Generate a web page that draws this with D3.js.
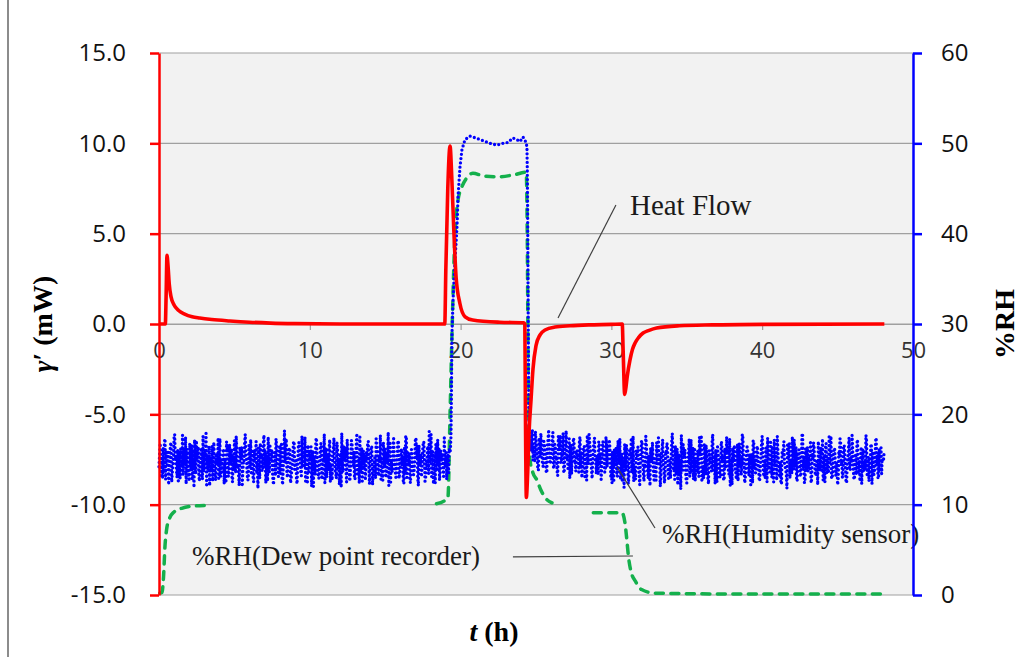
<!DOCTYPE html>
<html>
<head>
<meta charset="utf-8">
<script src="https://cdn.jsdelivr.net/npm/d3@7"></script>
<style>
  body { margin: 0; background: #fff; }
  .tick-y text { font-family: "Open Sans", sans-serif; font-size: 24px; fill: #111; }
  .tick-x text { font-family: "Open Sans", sans-serif; font-size: 22px; fill: #333; }
  .note { font-family: "Liberation Serif", "Times New Roman", serif; font-size: 27px; fill: #1a1a1a; }
  .title { font-family: "Liberation Serif", "Times New Roman", serif; font-weight: bold; fill: #000; }
</style>
</head>
<body>
<div id="chart"></div>
<script>
// heat flow (mW) : [t (h), value]
const heatFlow = [
  [0, 0], [0.42, 0], [0.47, 1.5], [0.53, 3.8], [0.6, 3.2], [0.68, 2.2], [0.8, 1.5], [1.0, 1.05],
  [1.3, 0.75], [1.7, 0.55], [2.2, 0.4], [2.7, 0.33], [3.5, 0.25], [4.7, 0.17], [6, 0.1], [7.4, 0.05],
  [9, 0.02], [12, 0], [18.95, 0], [19.02, 3], [19.15, 7.5], [19.3, 9.85], [19.42, 8], [19.55, 5.2],
  [19.7, 2.6], [19.95, 1.15], [20.3, 0.4], [20.8, 0.22], [22.6, 0.1], [24.2, 0.07], [24.26, 0],
  [24.3, -5], [24.36, -9.6], [24.45, -8.2], [24.54, -6], [24.67, -4.2], [24.8, -2.5], [25.0, -1.2],
  [25.27, -0.6], [25.6, -0.33], [26.26, -0.17], [27.25, -0.1], [28.5, -0.05], [30.0, -0.02], [30.72, 0],
  [30.78, -1.5], [30.88, -3.9], [30.95, -3.6], [31.05, -2.9], [31.23, -2.0], [31.4, -1.4], [31.57, -1.05],
  [31.8, -0.75], [32.1, -0.5], [32.5, -0.35], [33.0, -0.22], [34.5, -0.1], [36.7, -0.05], [40, -0.02], [48.1, 0]
];

// humidity sensor %RH before the wet step: readings every 0.08 h from t = 0,
// plus the readings taken in between (t = 0.04, 0.12, ...)
const humidityStep = 0.08;
const humidityA = [
  14.2,16.8,15.1,12.9,13.8,17.3,16.0,14.4,12.2,15.6,16.9,13.5,14.8,17.8,15.3,13.0,12.4,15.9,16.4,14.1,
  13.3,15.0,17.5,16.2,13.9,12.6,14.7,16.6,15.2,11.9,14.0,17.1,15.7,13.4,14.9,16.3,12.8,13.6,16.0,17.9,
  15.4,14.3,12.1,13.7,16.5,15.8,14.6,12.7,15.5,17.4,16.1,13.1,14.5,15.2,12.3,14.9,17.0,16.7,13.8,14.4,
  16.2,12.5,13.9,15.7,17.6,14.1,13.2,16.4,15.0,12.0,14.7,16.9,15.4,13.6,12.8,15.9,17.2,14.3,13.0,16.1,
  15.3,13.4,11.8,14.6,16.8,15.5,14.0,17.7,16.0,13.3,12.6,15.1,16.5,14.8,13.7,12.2,15.8,17.3,14.5,13.1,
  16.6,15.2,12.9,14.2,18.2,15.6,13.5,14.9,16.3,12.4,13.8,15.7,17.0,14.4,12.7,15.0,16.9,15.3,13.2,14.1,
  16.0,17.5,14.7,12.3,13.6,15.9,16.4,13.9,12.0,14.8,17.1,15.4,13.3,14.6,16.7,12.8,15.1,17.8,14.2,13.0,
  15.5,16.2,12.5,14.0,15.8,17.4,13.7,12.9,16.1,15.0,13.4,11.9,14.5,16.6,15.3,13.8,17.2,14.9,12.6,15.7,
  16.8,14.3,13.1,15.2,17.9,14.6,12.4,13.5,16.3,15.6,14.1,12.7,15.9,17.0,13.9,14.7,16.5,12.2,13.6,15.4,
  17.3,16.0,13.2,14.8,12.8,15.1,16.9,14.4,13.0,15.7,18.0,14.2,12.5,13.8,16.4,15.5,13.4,14.9,17.1,12.9,
  14.0,16.2,15.3,12.3,13.7,17.6,15.8,14.5,12.6,16.1,14.7,13.3,15.0,17.4,16.6,12.1,14.3,15.6,13.9,16.8,
  15.2,12.7,14.1,16.5,18.1,14.6,13.1,15.9,14.4,12.4,15.4,17.2,16.3,13.6,14.8,15.7,12.9,14.2,16.0,15.1,
  13.5,15.8
];
const humidityAmid = [
  15.6,13.2,14.9,16.3,17.0,12.8,14.5,15.8,13.9,16.6,12.5,14.2,17.4,15.0,13.7,16.1,14.6,12.9,15.3,17.7,
  16.0,14.4,12.3,15.5,13.6,16.8,14.1,12.7,15.9,17.2,13.4,14.8,16.4,12.6,15.1,13.8,17.6,14.3,15.6,12.2,
  13.9,16.5,15.2,14.0,12.6,16.9,13.3,15.7,14.4,12.9,17.3,15.0,13.6,16.2,14.7,12.4,15.8,13.1,16.7,14.9,
  12.8,15.4,17.1,13.5,16.0,14.2,12.1,15.6,16.4,13.8,14.6,17.8,15.1,12.7,16.6,14.0,13.3,15.9,12.5,14.8,
  17.0,14.5,16.3,12.9,15.2,13.7,16.8,14.1,12.4,15.5,17.5,13.6,14.9,16.1,12.6,15.7,13.2,16.5,14.3,15.0,
  13.4,16.7,12.2,15.3,14.6,17.3,13.0,15.8,16.2,12.8,14.4,17.0,13.9,15.1,12.3,16.4,14.8,13.5,17.6,15.4,
  14.1,12.6,15.9,16.6,13.7,14.9,12.0,16.0,15.2,13.3,17.4,14.5,12.9,15.6,16.8,13.1,14.7,12.4,16.3,15.5,
  13.8,17.2,14.3,12.7,16.1,15.0,13.5,16.9,14.0,12.2,15.7,17.9,13.6,14.8,16.4,12.5,15.3,14.6,13.0,17.1,
  14.4,15.9,12.8,16.6,13.4,15.1,17.5,14.2,12.6,16.0,15.4,13.7,14.9,17.0,12.3,15.6,16.3,13.2,14.7,12.9,
  16.5,13.9,15.2,17.7,14.1,12.7,15.8,16.2,13.3,14.6,12.1,16.8,15.0,13.6,17.3,14.4,12.8,15.5,16.9,13.5,
  15.1,14.3,12.5,16.4,17.6,13.0,14.8,15.7,12.4,16.1,14.0,13.8,17.2,15.3,12.9,16.6,14.5,13.1,15.9,17.0,
  12.6,14.9,16.3,13.4,15.0,17.8,14.2,12.3,15.6,16.7,13.7,14.4,12.7,16.0,15.2,13.9,17.4,14.6,12.8,15.5,
  16.2
];
// humidity step: rise, plateau, fall  [t (h), %RH]
const humidityStepUp = [
  [19.32, 16.0], [19.36, 17.5], [19.39, 22], [19.41, 26], [19.43, 29], [19.5, 32.7], [19.63, 37.1],
  [19.76, 40.7], [19.83, 44.1], [19.96, 47.4], [20.09, 49.3], [20.29, 50.4], [20.62, 50.8], [20.82, 50.7],
  [21.15, 50.5], [21.49, 50.3], [21.95, 50.0], [22.41, 49.8], [22.81, 50.0], [23.14, 50.1], [23.47, 50.6],
  [23.74, 50.4], [23.94, 50.2], [24.14, 50.7], [24.34, 50.1], [24.4, 49.6], [24.42, 47.4], [24.44, 43.7],
  [24.46, 38], [24.48, 32], [24.5, 26], [24.52, 20.5], [24.56, 17.5]
];
// after the step: readings every 0.08 h from t = 24.6, plus in-between readings
const humidityStartC = 24.6;
const humidityC = [
  17.6,15.9,18.3,16.4,14.7,17.1,15.2,13.8,16.6,17.9,15.0,14.2,16.8,15.5,13.6,17.3,16.1,14.5,15.8,18.0,
  14.0,16.3,15.1,13.2,16.9,17.7,14.8,15.6,13.5,16.2,18.2,15.3,14.1,12.9,16.7,15.4,17.4,14.6,13.7,16.0,
  15.7,17.2,14.3,13.0,15.9,16.5,14.9,12.7,15.2,17.8,16.1,13.9,14.6,16.8,15.0,13.4,15.5,17.0,14.4,12.8,
  16.4,15.3,13.6,17.5,14.2,15.8,16.9,13.1,12.4,14.9,16.2,15.0,13.5,17.1,14.6,12.8,15.7,13.9,11.9,15.3,
  16.6,14.2,13.0,15.5,17.4,14.8,12.6,13.7,16.0,15.2,14.1,12.2,15.9,16.8,13.4,14.5,17.6,15.1,12.9,13.8,
  16.3,14.7,15.4,12.5,13.6,16.9,15.0,14.3,12.0,15.8,17.2,14.0,13.3,15.6,16.5,12.7,14.4,15.3,17.9,13.9,
  12.8,15.1,16.2,14.6,13.2,11.7,14.9,16.7,15.5,13.7,12.4,15.0,17.3,14.1,13.5,16.4,15.7,12.6,14.8,16.0,
  13.1,15.4,17.7,14.3,12.9,15.9,16.6,13.8,12.3,14.7,15.2,17.0,13.6,14.2,16.1,12.5,15.6,14.0,13.0,16.8,
  15.3,12.7,14.5,17.5,15.8,13.4,12.1,14.9,16.3,15.0,13.9,12.8,16.7,15.5,14.2,13.3,17.8,14.6,12.4,15.1,
  16.4,13.7,14.8,12.2,15.7,17.1,14.0,13.5,16.0,15.2,12.6,14.4,16.9,15.6,13.1,12.9,15.4,17.4,14.1,13.6,
  15.9,16.5,12.5,14.3,15.1,17.6,14.7,13.0,12.3,15.8,16.2,14.5,13.8,11.8,15.0,16.8,14.9,13.4,15.5,17.2,
  14.2,12.8,15.6,16.1,13.3,14.6,17.9,15.2,12.6,13.9,16.4,15.3,14.0,12.4,15.7,16.9,14.4,13.2,15.0,17.0,
  13.7,16.3,14.8,12.7,15.4,16.6,13.5,14.1,17.5,15.8,12.9,13.6,16.0,15.1,14.7,12.2,15.9,17.3,14.3,13.0,
  16.5,15.5,12.5,14.6,16.2,13.8,15.2,17.7,14.0,12.8,15.6,16.8,13.4,14.9,15.3,12.3,16.1,14.5,13.9,17.1,
  15.0,12.6,14.4,16.7,15.8,13.3,14.2,17.4,15.4,12.9,13.7,16.3,15.1,14.8
];
const humidityCmid = [
  16.2,17.8,14.9,15.7,18.1,16.0,13.9,17.4,15.3,16.8,14.4,17.0,15.9,13.5,16.5,18.3,14.8,15.6,17.2,14.1,
  16.7,15.0,13.7,17.6,16.1,14.6,15.4,17.9,13.8,16.3,15.1,14.0,17.3,16.6,13.4,15.8,17.1,14.7,16.0,15.2,
  13.6,17.5,15.9,14.3,16.4,13.1,15.5,17.7,14.5,16.9,15.0,12.9,16.2,17.4,14.8,15.3,13.3,16.7,15.6,14.2,
  17.0,15.1,13.8,16.5,14.6,17.2,15.7,13.4,15.9,12.7,14.4,16.3,13.1,15.6,17.3,14.0,12.5,15.2,16.7,13.8,
  14.9,12.3,16.0,15.4,13.5,17.6,14.2,12.8,15.8,16.4,13.2,14.6,17.1,15.0,12.6,14.1,16.6,13.7,15.5,12.1,
  14.8,16.9,13.3,15.1,12.7,14.5,17.4,15.7,13.0,16.2,14.3,12.4,15.9,16.8,13.6,14.9,12.9,17.0,15.3,14.0,
  16.5,13.4,12.2,15.6,14.7,17.7,13.8,15.2,16.1,12.6,14.4,15.8,13.1,17.2,14.9,12.8,16.3,15.0,13.5,14.6,
  17.5,15.4,12.5,14.1,16.7,13.3,15.0,12.9,16.0,14.8,13.7,17.8,15.5,12.3,14.3,16.4,15.1,13.0,17.0,14.7,
  12.7,16.2,14.0,15.7,13.4,17.3,14.5,12.2,15.3,16.6,13.9,14.9,12.6,16.8,15.2,13.6,17.4,14.2,12.9,15.9,
  16.1,13.2,15.6,14.4,12.4,17.1,15.0,13.8,16.5,14.1,12.8,15.4,17.6,13.5,14.7,16.3,12.5,15.1,14.3,16.9,
  13.0,14.6,17.2,15.8,12.7,16.0,13.6,14.8,12.3,15.5,17.0,14.2,13.4,16.6,15.2,12.9,14.5,17.5,13.9,15.6,
  16.4,12.6,14.9,15.3,13.1,17.8,14.0,12.4,16.2,15.7,13.7,14.4,17.1,12.8,15.0,16.5,13.3,14.7,12.2,16.0,
  15.4,13.8,17.3,14.1,12.5,16.8,15.1,13.5,14.6,17.6,12.9,15.8,16.3,13.2,14.3,12.7,15.5,17.0,14.8,13.6,
  16.6,14.2,12.4,15.2,17.4,13.9,14.7,16.1,12.8,15.6,13.3,17.2,14.5,12.6,16.4,15.0,13.7,14.9,17.7,13.1,
  15.3,14.0,16.7,12.3,15.9,13.6,17.1,14.4,12.9,16.2,15.1,13.4,14.8,15.7
];

// dew point recorder %RH : [t (h), value], null = no record
const dewPoint = [
  [0.05, 0.2], [0.2, 0.3], [0.3, 2.0], [0.4, 5.5], [0.5, 7.2], [0.7, 8.5], [1.0, 9.2], [1.5, 9.6],
  [2.0, 9.8], [3.0, 9.9], [3.1, null],
  [18.4, 10.1], [18.9, 10.4], [19.16, 10.8], [19.3, 20], [19.43, 29], [19.63, 40], [19.83, 43.7],
  [20.09, 45.2], [20.42, 46.2], [20.82, 46.7], [21.5, 46.4], [22.5, 46.3], [23.5, 46.5], [24.35, 46.8],
  [24.42, 40], [24.48, 25], [24.52, 18], [24.6, 15], [24.8, 13.5], [25.07, 12.7], [25.3, 11.7],
  [25.6, 10.8], [26.06, 10.2], [26.2, null],
  [28.8, 9.1], [29.8, 9.1], [30.7, 9.1], [30.9, 8.0], [31.0, 6.5], [31.15, 4.0], [31.3, 2.6],
  [31.6, 1.5], [32.0, 0.6], [32.9, 0.2], [40, 0.1], [48.1, 0.1]
];

const leftTicks = [-15, -10, -5, 0, 5, 10, 15];
const rightTicks = [0, 10, 20, 30, 40, 50, 60];
const timeTicks = [0, 10, 20, 30, 40, 50];

// labels placed in data units (t, mW)
const notes = [
  { text: "Heat Flow", t: 31.23, v: 6.03, size: 29, line: [[30.3, 6.59], [26.46, 0.33]] },
  { text: "%RH(Humidity sensor)", t: 33.36, v: -12.12, size: 27, line: [[30.37, -7.91], [32.89, -11.29]] },
  { text: "%RH(Dew point recorder)", t: 2.19, v: -13.34, size: 27, line: [[23.47, -12.89], [31.43, -12.84]] }
];

const width = 1022, height = 657;
const plot = { left: 159, right: 913, top: 53, bottom: 595 };

const svg = d3.select('#chart').append('svg')
  .attr('width', width)
  .attr('height', height);

const x = d3.scaleLinear().domain([0, 50]).range([plot.left, plot.right]);
const yL = d3.scaleLinear().domain([-15, 15]).range([plot.bottom, plot.top]);
const yR = d3.scaleLinear().domain([0, 60]).range([plot.bottom, plot.top]);

// outer frame edge
svg.append('line')
  .attr('x1', 8).attr('x2', 8).attr('y1', 0).attr('y2', height)
  .attr('stroke', '#8c8c8c').attr('stroke-width', 2);

// plot background
svg.append('rect')
  .attr('x', plot.left).attr('y', plot.top)
  .attr('width', plot.right - plot.left).attr('height', plot.bottom - plot.top)
  .attr('fill', '#f2f2f2');

// gridlines
svg.append('g')
  .selectAll('line')
  .data(leftTicks)
  .join('line')
  .attr('x1', plot.left).attr('x2', plot.right)
  .attr('y1', d => yL(d)).attr('y2', d => yL(d))
  .attr('stroke', '#a0a0a0').attr('stroke-width', 1.2);

// time axis sits on the zero line
const xAxis = svg.append('g')
  .attr('class', 'tick-x')
  .attr('transform', `translate(0,${yL(0)})`)
  .call(d3.axisBottom(x).tickValues(timeTicks).tickFormat(d3.format('d')).tickSize(6).tickPadding(12).tickSizeOuter(0));
xAxis.select('.domain').attr('stroke', '#a0a0a0').attr('stroke-width', 1.2);
xAxis.selectAll('.tick line').attr('stroke', '#8c8c8c');

// dew point recorder (green dashes)
const dewLine = d3.line()
  .defined(d => d[1] != null)
  .x(d => x(d[0]))
  .y(d => yR(d[1]))
  .curve(d3.curveMonotoneX);

svg.append('path')
  .attr('d', dewLine(dewPoint))
  .attr('fill', 'none')
  .attr('stroke', '#14b04c')
  .attr('stroke-width', 3.5)
  .attr('stroke-linecap', 'round')
  .attr('stroke-dasharray', '8 7.5');

// humidity sensor (blue round dots)
const byTime = (a, b) => a[0] - b[0];
const readingsA = humidityA.map((v, i) => [i * humidityStep, v])
  .concat(humidityAmid.map((v, i) => [humidityStep / 2 + i * humidityStep, v]))
  .sort(byTime);
const readingsC = humidityC.map((v, i) => [humidityStartC + i * humidityStep, v])
  .concat(humidityCmid.map((v, i) => [humidityStartC + humidityStep / 2 + i * humidityStep, v]))
  .sort(byTime);
const humidity = readingsA.concat(humidityStepUp, readingsC);

const humidLine = d3.line()
  .x(d => x(d[0]))
  .y(d => yR(d[1]));

svg.append('path')
  .attr('d', humidLine(humidity))
  .attr('fill', 'none')
  .attr('stroke', '#0000ff')
  .attr('stroke-width', 3.3)
  .attr('stroke-linecap', 'round')
  .attr('stroke-dasharray', '0 4.3');

// heat flow (red)
const heatLine = d3.line()
  .x(d => x(d[0]))
  .y(d => yL(d[1]))
  .curve(d3.curveMonotoneX);

svg.append('path')
  .attr('d', heatLine(heatFlow))
  .attr('fill', 'none')
  .attr('stroke', '#ff0000')
  .attr('stroke-width', 3.6)
  .attr('stroke-linejoin', 'round');

// annotations with leader lines
notes.forEach(n => {
  svg.append('line')
    .attr('x1', x(n.line[0][0])).attr('y1', yL(n.line[0][1]))
    .attr('x2', x(n.line[1][0])).attr('y2', yL(n.line[1][1]))
    .attr('stroke', '#404040').attr('stroke-width', 1.2);
  svg.append('text')
    .attr('class', 'note')
    .attr('x', x(n.t)).attr('y', yL(n.v))
    .style('font-size', n.size + 'px')
    .text(n.text);
});

// left axis (red)
const leftAxis = svg.append('g')
  .attr('class', 'tick-y')
  .attr('transform', `translate(${plot.left},0)`)
  .call(d3.axisLeft(yL).tickValues(leftTicks).tickFormat(d => d.toFixed(1)).tickSize(9).tickPadding(24).tickSizeOuter(0));
leftAxis.select('.domain').attr('stroke', '#ff0000').attr('stroke-width', 2.5);
leftAxis.selectAll('.tick line').attr('stroke', '#ff0000').attr('stroke-width', 2.5);

// right axis (blue)
const rightAxis = svg.append('g')
  .attr('class', 'tick-y')
  .attr('transform', `translate(${plot.right},0)`)
  .call(d3.axisRight(yR).tickValues(rightTicks).tickSize(9).tickPadding(19).tickSizeOuter(0));
rightAxis.select('.domain').attr('stroke', '#0000ff').attr('stroke-width', 2.5);
rightAxis.selectAll('.tick line').attr('stroke', '#0000ff').attr('stroke-width', 2.5);

// axis titles
const yTitle = svg.append('text')
  .attr('class', 'title')
  .attr('transform', `translate(52,${(plot.top + plot.bottom) / 2}) rotate(-90)`)
  .attr('text-anchor', 'middle')
  .style('font-size', '28px');
yTitle.append('tspan').style('font-style', 'italic').text('γ');
yTitle.append('tspan').text('′ (mW)');

svg.append('text')
  .attr('class', 'title')
  .attr('transform', `translate(1014,${(plot.top + plot.bottom) / 2}) rotate(-90)`)
  .attr('text-anchor', 'middle')
  .style('font-size', '28px')
  .text('%RH');

const xTitle = svg.append('text')
  .attr('class', 'title')
  .attr('x', (plot.left + plot.right) / 2 - 42)
  .attr('y', 641)
  .attr('text-anchor', 'middle')
  .style('font-size', '28px');
xTitle.append('tspan').style('font-style', 'italic').text('t');
xTitle.append('tspan').text(' (h)');
</script>
</body>
</html>
